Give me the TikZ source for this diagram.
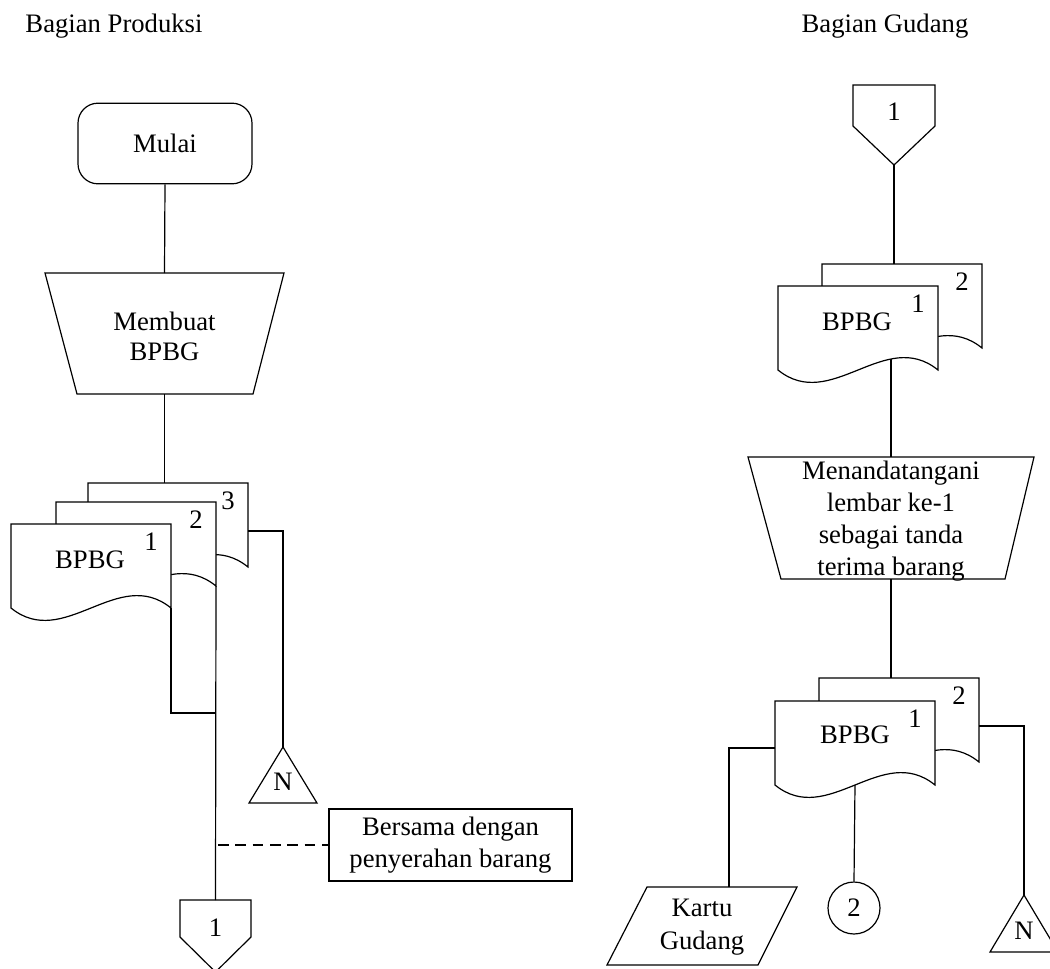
\documentclass[tikz,border=0pt]{standalone}
\usepackage{fontspec}
\setmainfont{Liberation Serif}
\usetikzlibrary{calc}

% A document sheet: #1 name, (#2,#3) top-left corner, #4 copy number
\newcommand\docsheet[4]{%
  \begin{scope}[shift={(#2,#3)}]
    \draw[sheet] (0,0) -- (160,0) -- (160,84)
      .. controls (107,41) and (53,127) .. (0,84) -- cycle;
    \node[txt] (#1-num) at (140,18) {#4};
    \coordinate (#1-tl) at (0,0);
    \coordinate (#1-br) at (160,84);
    \coordinate (#1-l) at (0,47);
    \coordinate (#1-r) at (160,48);
    \coordinate (#1-w) at (80,84);
  \end{scope}}

\begin{document}
\begin{tikzpicture}[x=0.75pt,y=-0.75pt,
  line width=0.9pt,
  txt/.style={font=\fontsize{20}{24}\selectfont, inner sep=0pt, align=center},
  sheet/.style={draw, fill=white},
  link/.style={draw},
  note/.style={draw, txt, minimum width=182.25pt, minimum height=54pt},
  dashlink/.style={draw, dash pattern=on 8pt off 5pt}]

\clip (0,0) rectangle (1050,968);
\useasboundingbox (0,0) rectangle (1050,968);

% ---------------- Column headings
\node[txt, anchor=base] (hprod) at (114,32) {Bagian Produksi};
\node[txt, anchor=base] (hgud) at (885,32) {Bagian Gudang};

% ---------------- Bagian Produksi
\node[draw, txt, rounded corners=15pt, minimum width=130.5pt, minimum height=60.5pt]
  (mulai) at (165,143.5) {Mulai};

\draw (45,273) -- (284,273) -- (253,394) -- (77,394) -- cycle;
\node[txt, font=\fontsize{20}{22.5}\selectfont] (membuat) at (164.5,336) {Membuat\\BPBG};
\coordinate (membuat-n) at (164.5,273);
\coordinate (membuat-s) at (164.5,394);

\docsheet{pd3}{88}{483}{3}
\docsheet{pd2}{56}{502}{2}
\docsheet{pd1}{11}{524}{1}
\node[txt] (pd1-text) at (90,560) {BPBG};
\coordinate (pd3-in) at (164.5,483);

% connector "N" (archive)
\draw (283,747) -- (317,803) -- (249,803) -- cycle;
\node[txt] (nprod) at (283,782) {N};
\coordinate (nprod-top) at (283,747);

% off-page connector 1
\draw (180,900) -- (251,900) -- (251,937) -- (215.5,972) -- (180,937) -- cycle;
\node[txt] (off1a) at (215.5,928) {1};
\coordinate (off1a-top) at (215.5,900);
\coordinate (joinprod) at (215.5,713);

\node[note, font=\fontsize{20}{23.5}\selectfont] (note) at (450.5,845)
  {Bersama dengan\\penyerahan barang};
\coordinate (dashstart) at (218,845);

\draw (mulai.south) -- (membuat-n);
\draw (membuat-s) -- (pd3-in);
\draw (pd1-br) |- (joinprod);
\draw (pd2-br) -- (off1a-top);
\draw (pd3-r) -| (nprod-top);
\draw[dashlink] (dashstart) -- (note.west);

% ---------------- Bagian Gudang
\draw (853,85) -- (935,85) -- (935,126) -- (894,165) -- (853,126) -- cycle;
\node[txt] (off1b) at (894,112) {1};
\coordinate (off1b-tip) at (894,165);

\docsheet{gd2}{822}{264}{2}
\docsheet{gd1}{778}{286}{1}
\node[txt] (gd1-text) at (857,322) {BPBG};
\coordinate (gd2-in) at (894,264);
\coordinate (gd1-out) at (891,359);

\draw (748,457) -- (1034,457) -- (1005,579) -- (781,579) -- cycle;
\node[txt, font=\fontsize{20}{24}\selectfont] (ttd) at (891,521)
  {Menandatangani\\lembar ke-1\\sebagai tanda\\terima barang};
\coordinate (ttd-n) at (891,457);
\coordinate (ttd-s) at (891,579);

\docsheet{ge2}{819}{678}{2}
\docsheet{ge1}{775}{701}{1}
\node[txt] (ge1-text) at (855,735) {BPBG};
\coordinate (ge2-in) at (891,678);

% Kartu Gudang (input/output)
\draw (647,887) -- (797,887) -- (758,965) -- (607,965) -- cycle;
\node[txt, font=\fontsize{20}{25}\selectfont] (kartu) at (702,927) {Kartu\\Gudang};
\coordinate (kartu-top) at (729,887);

% on-page connector 2
\node[draw, circle, minimum size=39pt, inner sep=0pt, txt] (con2) at (854,908) {2};

% archive N
\draw (1024,895) -- (1058,952) -- (990,952) -- cycle;
\node[txt] (ngud) at (1024,931) {N};
\coordinate (ngud-top) at (1024,895);

\draw (off1b-tip) -- (gd2-in);
\draw (gd1-out) -- (ttd-n);
\draw (ttd-s) -- (ge2-in);
\draw (ge1-l) -| (kartu-top);
\draw (ge1-w) -- (con2.north);
\draw (ge2-r) -| (ngud-top);
\end{tikzpicture}
\end{document}
